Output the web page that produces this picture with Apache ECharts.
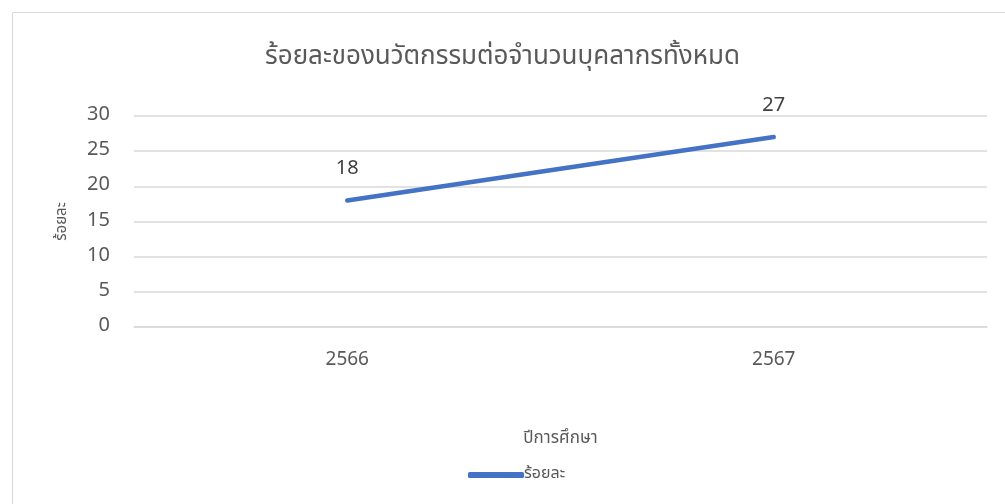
<!DOCTYPE html>
<html>
<head>
<meta charset="utf-8">
<script src="https://cdn.jsdelivr.net/npm/echarts@6/dist/echarts.min.js"></script>
<style>
html,body{margin:0;padding:0;background:#fff;}
#c{width:1005px;height:504px;}
</style>
</head>
<body>
<div id="c"></div>
<script>
const titleText = 'ร้อยละของนวัตกรรมต่อจำนวนบุคลากรทั้งหมด';
const categories = ['2566', '2567'];
const seriesName = 'ร้อยละ';
const values = [18, 27];
const xAxisName = 'ปีการศึกษา';
const yAxisName = 'ร้อยละ';

const FONT = '"Noto Sans Thai", "Noto Sans", "Open Sans", sans-serif';
const chart = echarts.init(document.getElementById('c'));
chart.setOption({
  backgroundColor: '#fff',
  textStyle: {fontFamily: FONT},
  graphic: [{
    type: 'rect', left: 10, top: 10, shape: {width: 1000, height: 500},
    style: {fill: 'none', stroke: '#d9d9d9', lineWidth: 1}, silent: true
  }],
  title: {
    text: titleText, left: 'center', top: 41,
    textStyle: {fontSize: 26, fontWeight: 'normal', color: '#595959', fontFamily: FONT}
  },
  legend: {
    bottom: 16, left: 463, itemWidth: 56, itemHeight: 6, itemGap: 0,
    textStyle: {fontSize: 16, color: '#595959', padding: [0,0,0,-5]},
    data: [{name: seriesName, icon: 'roundRect'}]
  },
  grid: {left: 134, right: 18, top: 116, bottom: 177, containLabel: false},
  xAxis: {
    type: 'category', data: categories, boundaryGap: true,
    name: xAxisName, nameLocation: 'middle', nameGap: 104,
    nameTextStyle: {fontSize: 17, color: '#595959'},
    axisLine: {show: true, lineStyle: {color: '#d9d9d9', width: 1.5}},
    axisTick: {show: false},
    axisLabel: {fontSize: 19, color: '#595959', margin: 25}
  },
  yAxis: {
    type: 'value', min: 0, max: 30, interval: 5,
    name: yAxisName, nameLocation: 'middle', nameGap: 64, nameRotate: 90,
    nameTextStyle: {fontSize: 15, color: '#595959'},
    axisLine: {show: false}, axisTick: {show: false},
    axisLabel: {fontSize: 20, color: '#595959', margin: 24},
    splitLine: {lineStyle: {color: '#d9d9d9', width: 1.5}}
  },
  series: [{
    name: seriesName, type: 'line', data: values,
    symbol: 'circle', symbolSize: 0, showSymbol: true, smooth: false,
    lineStyle: {color: '#4472C4', width: 4.5, cap: 'round'},
    itemStyle: {color: '#4472C4'},
    label: {show: true, position: 'top', distance: 20, fontSize: 20, color: '#404040'},
    labelLayout: {hideOverlap: false}
  }]
});
</script>
</body>
</html>
